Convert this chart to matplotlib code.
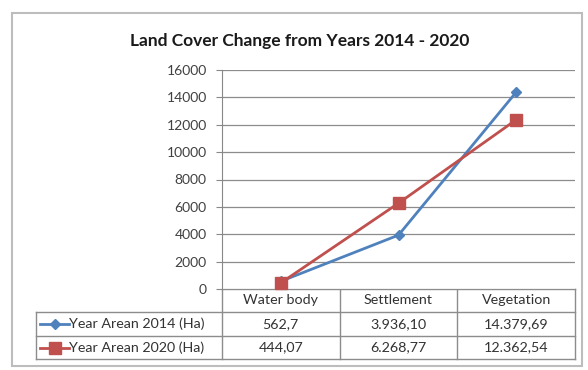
import matplotlib.pyplot as plt
from matplotlib.patches import Rectangle

categories = ["Water body", "Settlement", "Vegetation"]
series_names = ["Year Arean 2014 (Ha)", "Year Arean 2020 (Ha)"]
area_2014 = ["562,7", "3.936,10", "14.379,69"]
area_2020 = ["444,07", "6.268,77", "12.362,54"]
y_ticks = [0, 2000, 4000, 6000, 8000, 10000, 12000, 14000, 16000]


def to_float(s):
    # values are written with "." for thousands and "," for decimals
    return float(s.replace(".", "").replace(",", "."))


colors = ["#4F81BD", "#C0504D"]
markers = ["D", "s"]
msizes = [5, 8]

W, H = 588, 370
plt.rcParams['font.family'] = ['Lato', 'DejaVu Sans']
fig = plt.figure(figsize=(W / 100, H / 100), dpi=100)

# background layer in pixel coordinates for border and table
bg = fig.add_axes([0, 0, 1, 1])
bg.set_xlim(0, W)
bg.set_ylim(H, 0)
bg.axis('off')
bg.add_patch(Rectangle((12, 13), 570, 353, fill=False, ec="#BDBDBD", lw=1.5))

# plot area
pl, pr, pt, pb = 222, 575, 70, 289
ax = fig.add_axes([pl / W, 1 - pb / H, (pr - pl) / W, (pb - pt) / H])
ax.set_xlim(-0.5, len(categories) - 0.5)
ax.set_ylim(0, 16000)
ax.set_yticks(y_ticks)
ax.set_xticks([])
ax.tick_params(axis='y', length=4, color="#888888", labelsize=10, labelcolor="#404040", pad=7)
ax.grid(axis='y', color="#8C8C8C", lw=0.9)
for s in ["top", "right", "bottom"]:
    ax.spines[s].set_visible(False)
ax.spines["left"].set_color("#888888")
ax.set_axisbelow(True)

xs = list(range(len(categories)))
for vals, c, m, ms in zip([area_2014, area_2020], colors, markers, msizes):
    ax.plot(xs, [to_float(v) for v in vals], color=c, lw=2, marker=m, ms=ms,
            clip_on=False, zorder=3)

fig.text(300 / W, 1 - 41 / H, "Land Cover Change from Years 2014 - 2020",
         ha="center", va="center", fontsize=12.5, fontweight="bold", color="#1a1a1a")

# data table under the axis
lc = "#8C8C8C"
tl = 36
rows = [289, 312, 336, 359]
col_w = (pr - pl) / len(categories)
cols = [pl + i * col_w for i in range(len(categories) + 1)]

bg.plot([pl, pr], [rows[0], rows[0]], color=lc, lw=1)
for y in rows[1:]:
    bg.plot([tl, pr], [y, y], color=lc, lw=1)
for x in cols:
    bg.plot([x, x], [rows[0], rows[-1]], color=lc, lw=1)
bg.plot([tl, tl], [rows[1], rows[-1]], color=lc, lw=1)

tc = "#333333"
fs = 10.3
for i, cat in enumerate(categories):
    bg.text((cols[i] + cols[i + 1]) / 2, (rows[0] + rows[1]) / 2, cat,
            ha="center", va="center", fontsize=fs, color=tc)

for r, (name, vals) in enumerate(zip(series_names, [area_2014, area_2020])):
    yc = (rows[r + 1] + rows[r + 2]) / 2
    # legend key: short line with the series marker in the middle
    bg.plot([40, 69], [yc, yc], color=colors[r], lw=2)
    bg.plot([54.5], [yc], marker=markers[r], ms=msizes[r], color=colors[r])
    bg.text(69, yc, name, ha="left", va="center", fontsize=fs, color=tc)
    for i, v in enumerate(vals):
        bg.text((cols[i] + cols[i + 1]) / 2, yc, v,
                ha="center", va="center", fontsize=fs, color=tc)

fig.savefig("out.png", dpi=100, facecolor="white")
